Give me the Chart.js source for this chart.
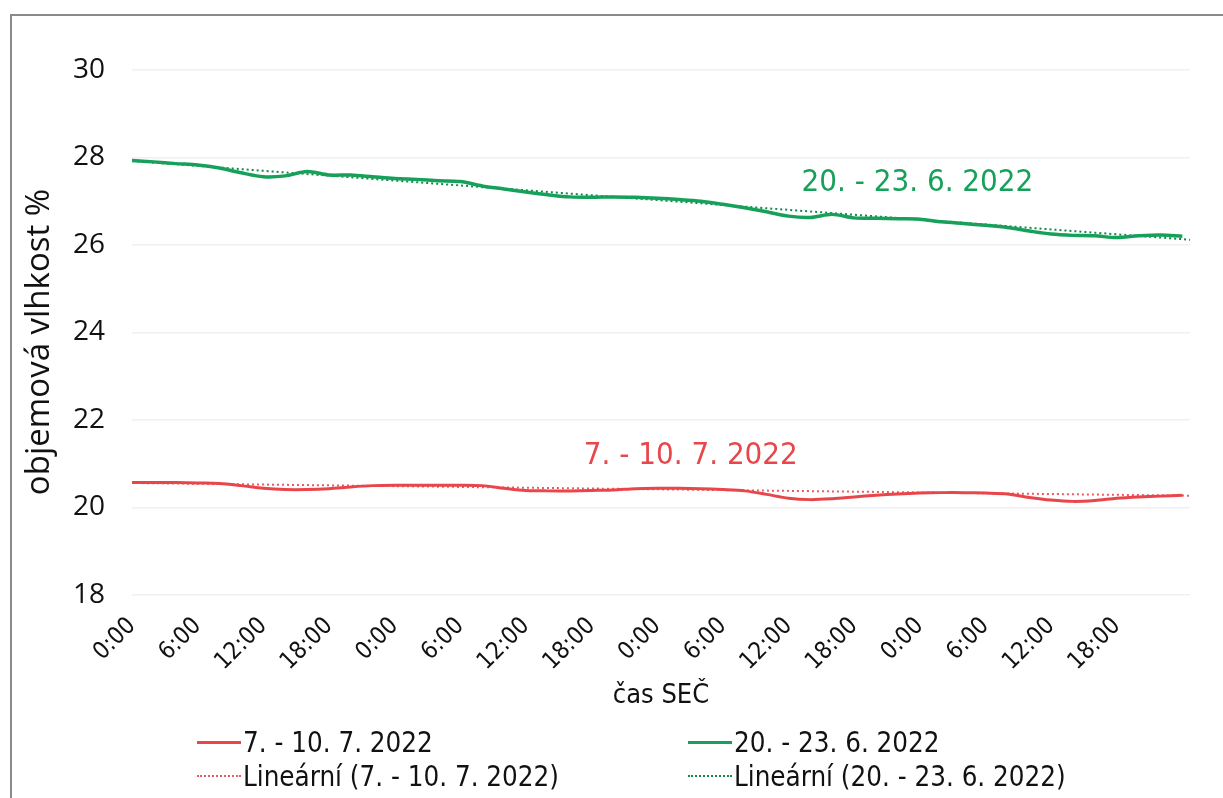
<!DOCTYPE html>
<html>
<head>
<meta charset="utf-8">
<script src="https://cdn.jsdelivr.net/npm/chart.js@4.4.0/dist/chart.umd.min.js"></script>
<style>
  html, body { margin: 0; padding: 0; background: #fff; }
  #wrap { position: relative; width: 1223px; height: 798px; overflow: hidden; }
  #frame { position: absolute; left: 10px; top: 14px; width: 1300px; height: 900px;
           border-left: 2px solid #8a8a8a; border-top: 2px solid #8a8a8a; }
  #chart { position: absolute; left: 0; top: 0; }
  .legend { position: absolute; font-family: "DejaVu Sans Condensed", "DejaVu Sans", sans-serif;
            font-size: 27.5px; color: #111; display: flex; align-items: center; white-space: nowrap; }
  .legend .sample { width: 44px; height: 0; margin-right: 2px; }
</style>
</head>
<body>
<div id="wrap">
  <div id="frame"></div>
  <canvas id="chart" width="1223" height="798"></canvas>
  <div id="legend"></div>
</div>
<script>
// hours from start of each measurement run
var hours = [0, 2, 4, 6, 8, 10, 12, 14, 16, 18, 20, 22, 24, 26, 28, 30, 32, 34, 36, 38, 40, 42, 44, 46, 48,
             50, 52, 54, 56, 58, 60, 62, 64, 66, 68, 70, 72, 74, 76, 78, 80, 82, 84, 86, 88, 90, 92, 94, 96];

var july = [20.57, 20.57, 20.57, 20.56, 20.55, 20.5, 20.44, 20.41, 20.41, 20.43, 20.47, 20.5, 20.51, 20.51, 20.51, 20.51, 20.5, 20.44, 20.39, 20.38, 20.38, 20.39, 20.4, 20.43, 20.44,
            20.44, 20.43, 20.41, 20.38, 20.3, 20.21, 20.18, 20.2, 20.24, 20.28, 20.31, 20.33, 20.34, 20.34, 20.33, 20.31, 20.23, 20.17, 20.14, 20.16, 20.21, 20.24, 20.26, 20.28];

var june = [27.93, 27.9, 27.86, 27.83, 27.76, 27.65, 27.56, 27.58, 27.68, 27.6, 27.6, 27.56, 27.52, 27.5, 27.47, 27.45, 27.35, 27.28, 27.21, 27.15, 27.1, 27.09, 27.1, 27.09, 27.07,
            27.04, 27.0, 26.93, 26.85, 26.76, 26.66, 26.63, 26.7, 26.62, 26.61, 26.6, 26.59, 26.53, 26.49, 26.45, 26.4, 26.32, 26.25, 26.22, 26.21, 26.17, 26.21, 26.23, 26.2];

// linear trend end points
var trendHours = [0, 96.7];
var julyTrend = [20.56, 20.27];
var juneTrend = [27.92, 26.12];

var yTicks = [18, 20, 22, 24, 26, 28, 30];
var seriesNames = ['7. - 10. 7. 2022', '20. - 23. 6. 2022'];

var red = '#e8464b';
var green = '#16a05a';
var condensed = '"DejaVu Sans Condensed", "DejaVu Sans"';

function pts(xs, ys) {
    return xs.map(function (x, i) { return {x: x, y: ys[i]}; });
}

var labelPlugin = {
    id: 'seriesLabels',
    afterDatasetsDraw: function (chart) {
        var ctx = chart.ctx;
        var xs = chart.scales.x, ys = chart.scales.y;
        ctx.save();
        ctx.font = '31px ' + condensed;
        ctx.textBaseline = 'middle';
        ctx.textAlign = 'left';
        ctx.fillStyle = green;
        ctx.fillText(seriesNames[1], xs.getPixelForValue(61.2), ys.getPixelForValue(27.42));
        ctx.fillStyle = red;
        ctx.fillText(seriesNames[0], xs.getPixelForValue(41.3), ys.getPixelForValue(21.18));

        // y axis title
        ctx.translate(40, 342);
        ctx.rotate(-Math.PI / 2);
        ctx.textAlign = 'center';
        ctx.fillStyle = '#111';
        ctx.font = '33px "Open Sans"';
        ctx.fillText('objemová vlhkost %', 0, 0);
        ctx.restore();
    }
};

var chart = new Chart(document.getElementById('chart'), {
    type: 'line',
    data: {
        datasets: [{
            label: seriesNames[0],
            data: pts(hours, july),
            borderColor: red,
            borderWidth: 3,
            pointRadius: 0,
            tension: 0.3
        }, {
            label: seriesNames[1],
            data: pts(hours, june),
            borderColor: green,
            borderWidth: 3.5,
            pointRadius: 0,
            tension: 0.3
        }, {
            label: 'Lineární (' + seriesNames[0] + ')',
            data: pts(trendHours, julyTrend),
            borderColor: '#ec5a5e',
            borderWidth: 2,
            borderDash: [2, 3],
            pointRadius: 0
        }, {
            label: 'Lineární (' + seriesNames[1] + ')',
            data: pts(trendHours, juneTrend),
            borderColor: '#0f8a4a',
            borderWidth: 2,
            borderDash: [2, 3],
            pointRadius: 0
        }]
    },
    options: {
        responsive: false,
        animation: false,
        layout: { padding: { left: 18, top: 70, right: 33, bottom: 86 } },
        plugins: {
            legend: { display: false },
            tooltip: { enabled: false }
        },
        scales: {
            x: {
                type: 'linear',
                min: 0,
                max: 96.7,
                afterFit: function (s) { s.height = 117; },
                afterBuildTicks: function (s) {
                    s.ticks = s.ticks.filter(function (t) { return t.value % 6 === 0 && t.value < 96; });
                },
                grid: { display: false },
                border: { display: false },
                ticks: {
                    stepSize: 6,
                    includeBounds: false,
                    autoSkip: false,
                    maxRotation: 45,
                    minRotation: 45,
                    padding: 9,
                    color: '#111',
                    font: { family: condensed, size: 24 },
                    callback: function (v) { return (v % 24) + ':00'; }
                },
                title: {
                    display: true,
                    text: 'čas SEČ',
                    color: '#111',
                    padding: { top: 0, bottom: 0 },
                    font: { family: condensed, size: 27 }
                }
            },
            y: {
                min: 18,
                max: 30,
                afterFit: function (s) { s.width = 114; },
                afterBuildTicks: function (s) {
                    s.ticks = yTicks.map(function (v) { return {value: v}; });
                },
                grid: { color: '#f0f0f0', lineWidth: 1.5, drawTicks: false },
                border: { display: false },
                ticks: {
                    padding: 27,
                    color: '#111',
                    font: { family: '"Open Sans"', size: 28 }
                }
            }
        }
    },
    plugins: [labelPlugin]
});

// two-column legend like the original
var legendPos = [[197, 742], [688, 742], [197, 776], [688, 776]];
var legendBox = document.getElementById('legend');
chart.data.datasets.forEach(function (ds, i) {
    var item = document.createElement('div');
    item.className = 'legend';
    item.style.left = legendPos[i][0] + 'px';
    item.style.top = (legendPos[i][1] - 17) + 'px';
    item.style.height = '34px';
    var sample = document.createElement('span');
    sample.className = 'sample';
    sample.style.borderTop = (ds.borderDash ? '2px dotted ' : '3px solid ') + ds.borderColor;
    item.appendChild(sample);
    item.appendChild(document.createTextNode(ds.label));
    legendBox.appendChild(item);
});
</script>
</body>
</html>
